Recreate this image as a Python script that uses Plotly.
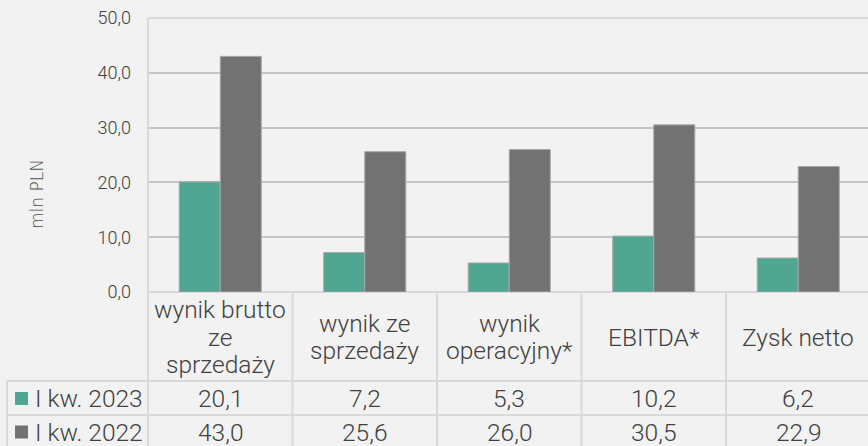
import plotly.graph_objects as go

categories = ["wynik brutto<br>ze<br>sprzedaży", "wynik ze<br>sprzedaży",
              "wynik<br>operacyjny*", "EBITDA*", "Zysk netto"]
series_names = ["I kw. 2023", "I kw. 2022"]
values_2023 = [20.1, 7.2, 5.3, 10.2, 6.2]
values_2022 = [43.0, 25.6, 26.0, 30.5, 22.9]
y_ticks = [0, 10, 20, 30, 40, 50]

colors = ["#4FA792", "#727272"]
txt = "#404040"
grid = "#C4C4C4"
light = "#D9D9D9"
FONT = "Roboto"
FS = 24.5

W, H = 868, 446
L, T, B = 148, 18, 154
PW = W - L
PH = H - T - B
CAT_W = 144.5
xr = [-0.5, -0.5 + PW / CAT_W]

def px_x(px):
    return (px - L) / PW

def px_y(py):
    return (H - B - py) / PH

def dx(x):
    return (x - xr[0]) / (xr[1] - xr[0])

def fmt(v):
    return f"{v:.1f}".replace(".", ",")

xs = list(range(len(categories)))
fig = go.Figure()
for name, vals, c in zip(series_names, [values_2023, values_2022], colors):
    fig.add_trace(go.Bar(x=xs, y=vals, name=name,
                         marker=dict(color=c, line=dict(color="#A8A8A8", width=1))))

shapes = []
annotations = []

# table geometry (pixels)
hdr_top, hdr_bot, r1_bot, r2_bot = 293, 381, 415, 452
left_edge = 7
line = dict(color=light, width=2)

for yy in [hdr_bot, r1_bot]:
    shapes.append(dict(type="line", xref="paper", yref="paper", x0=px_x(left_edge), x1=1.01,
                       y0=px_y(yy), y1=px_y(yy), line=line))
shapes.append(dict(type="line", xref="paper", yref="paper", x0=px_x(left_edge), x1=px_x(left_edge),
                   y0=px_y(hdr_bot), y1=px_y(r2_bot), line=line))
for i in range(len(categories) + 1):
    xp = dx(i - 0.5)
    y_top = px_y(T) if i == 0 else px_y(hdr_top)
    shapes.append(dict(type="line", xref="paper", yref="paper", x0=xp, x1=xp,
                       y0=y_top, y1=px_y(r2_bot), line=line))
shapes.append(dict(type="line", xref="paper", yref="paper", x0=0, x1=1.01,
                   y0=1, y1=1, line=line))

# header labels, one annotation per line for tight line spacing
LINE_H = 27.5
hdr_c = (hdr_top + hdr_bot) / 2
for i, c in enumerate(categories):
    parts = c.split("<br>")
    n = len(parts)
    for k, p in enumerate(parts):
        yc = hdr_c + (k - (n - 1) / 2) * LINE_H
        annotations.append(dict(x=dx(i), y=px_y(yc), xref="paper", yref="paper",
                                text=p, showarrow=False, xanchor="center", yanchor="middle",
                                font=dict(family=FONT, size=FS, color=txt, weight=300)))
# rows
row_centers = [(hdr_bot + r1_bot) / 2 + 0.5, (r1_bot + r2_bot - 3) / 2]
for name, vals, c, yc in zip(series_names, [values_2023, values_2022], colors, row_centers):
    shapes.append(dict(type="rect", xref="paper", yref="paper", x0=px_x(15), x1=px_x(28),
                       y0=px_y(yc - 6.5), y1=px_y(yc + 6.5), fillcolor=c, line=dict(width=0)))
    annotations.append(dict(x=px_x(33), y=px_y(yc), xref="paper", yref="paper", text=name,
                            showarrow=False, xanchor="left", yanchor="middle",
                            font=dict(family=FONT, size=FS, color=txt, weight=300)))
    for i, v in enumerate(vals):
        annotations.append(dict(x=dx(i), y=px_y(yc), xref="paper", yref="paper", text=fmt(v),
                                showarrow=False, xanchor="center", yanchor="middle",
                                font=dict(family=FONT, size=FS, color=txt, weight=300)))

annotations.append(dict(x=px_x(37), y=px_y(194), xref="paper", yref="paper", text="mln PLN",
                        textangle=-90, showarrow=False, xanchor="center", yanchor="middle",
                        font=dict(family="DejaVu Sans", size=17, color="#505050", weight=300)))

fig.update_layout(
    width=W, height=H,
    margin=dict(l=L, r=0, t=T, b=B, pad=0),
    paper_bgcolor="#F2F2F2", plot_bgcolor="#F2F2F2",
    separators=", ",
    barmode="group", bargap=0.432, bargroupgap=0,
    showlegend=False,
    shapes=shapes, annotations=annotations,
    xaxis=dict(range=xr, showticklabels=False, showgrid=False, zeroline=False,
               fixedrange=True),
    yaxis=dict(range=[0, 50], tickvals=y_ticks, tickformat=".1f", showgrid=True,
               gridcolor=grid, gridwidth=1.5, zeroline=True, zerolinecolor=light, zerolinewidth=2,
               ticks="", ticklabelstandoff=16, fixedrange=True,
               tickfont=dict(family=FONT, size=18, color=txt, weight=300)),
)
fig.write_html("out.html", config={"displayModeBar": False},
               post_script="document.body.style.margin='0';")
